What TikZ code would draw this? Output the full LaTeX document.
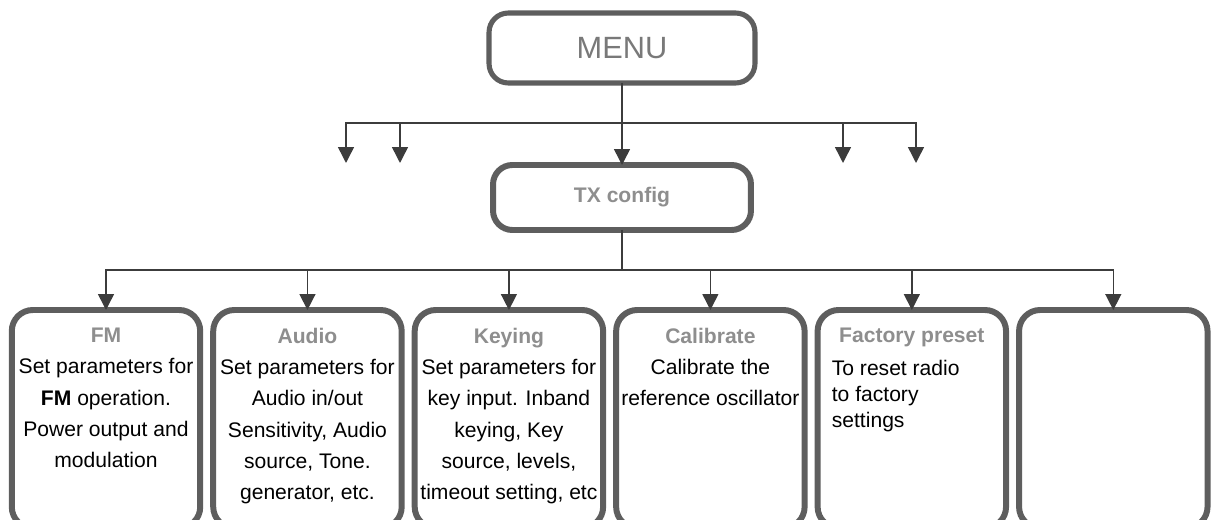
\documentclass[tikz,border=0pt]{standalone}
\usepackage{fontspec}
\setmainfont{Liberation Sans}
\usepackage{tikz}
\usetikzlibrary{arrows.meta}
\usetikzlibrary{positioning}
\definecolor{boxgray}{HTML}{5E5E5E}
\definecolor{headgray}{HTML}{8E8E8E}
\definecolor{linegray}{HTML}{3C3C3C}
\tikzset{>={Triangle[width=9pt,length=9pt]}, x=0.02cm, y=-0.02cm, font=\fontsize{12}{17.8}\selectfont}
\tikzstyle{menubox} = [draw=boxgray, fill=white, line width=2.9pt, rounded corners=11pt, rectangle, minimum width=5.32cm, minimum height=1.4cm, outer sep=0pt, text=headgray!85!black]
\tikzstyle{itembox} = [draw=boxgray, fill=white, line width=3.4pt, rounded corners=12pt, rectangle, minimum width=3.77cm, inner xsep=0.05cm, inner ysep=0.36cm, outer sep=0pt, anchor=north]
\tikzstyle{branch} = [draw=linegray, line width=0.85pt]
\tikzstyle{loose} = [coordinate]
\newcommand{\itemtext}[2]{\parbox[t][3.64cm][t]{3.6cm}{\centering{\bfseries\color{headgray}#1}\\#2}}
\newcommand{\leftitemtext}[2]{\parbox[t][3.64cm][t]{3.6cm}{{\centering\bfseries\color{headgray}#1\par}\vspace{4pt}\fontsize{12}{14.7}\selectfont\raggedright\setlength{\leftskip}{0.2cm}#2}}

\begin{document}
\begin{tikzpicture}
    \useasboundingbox (0,0) rectangle (1214,520);
    \node [menubox, font=\fontsize{17.5}{17.5}\selectfont] (menu) at (622,48) {MENU};
    \node [menubox, line width=3.4pt, minimum width=5.16cm, minimum height=1.3cm, font=\fontsize{12}{12}\selectfont\bfseries, text=headgray] (tx) at (622,197.5) {TX config};

    \node [itembox] (fm) at (106,310) {\itemtext{FM}{Set parameters for\\\textbf{FM} operation.\\Power output and\\modulation}};
    \node [itembox, right=0.26cm of fm] (audio) {\itemtext{Audio}{Set parameters for\\Audio in/out\\Sensitivity, Audio\\source, Tone.\\generator, etc.}};
    \node [itembox, right=0.26cm of audio] (keying) {\itemtext{Keying}{Set parameters for\\key input. Inband\\keying, Key\\source, levels,\\timeout setting, etc}};
    \node [itembox, right=0.26cm of keying] (calib) {\itemtext{Calibrate}{Calibrate the\\reference oscillator}};
    \node [itembox, right=0.26cm of calib] (factory) {\leftitemtext{Factory preset}{To reset radio\\to factory\\settings}};
    \node [itembox, right=0.26cm of factory] (spare) {\parbox[t][3.64cm][t]{3.6cm}{\mbox{}}};

    % branches below MENU
    \coordinate (topbar) at (622,123);
    \node [loose] (out1) at (346,163) {};
    \node [loose] (out2) at (400,163) {};
    \node [loose] (out3) at (843,163) {};
    \node [loose] (out4) at (916,163) {};
    \draw [branch, line width=1.4pt] (topbar) -- (topbar -| out3);
    \draw [branch, ->] (menu.south) -- (tx.north);
    \draw [branch, ->] (topbar) -| (out1);
    \draw [branch, ->] (topbar) -| (out2);
    \draw [branch, ->] (topbar) -| (out3);
    \draw [branch, ->] (topbar) -| (out4);

    % branches below TX config
    \coordinate (lowbar) at (622,270);
    \draw [branch] (tx.south) -- (lowbar);
    \draw [branch, ->] (lowbar) -| (fm.north);
    \draw [branch, ->] (lowbar) -| (audio.north);
    \draw [branch, ->] (lowbar) -| (keying.north);
    \draw [branch, ->] (lowbar) -| (calib.north);
    \draw [branch, ->] (lowbar) -| (factory.north);
    \draw [branch, ->] (lowbar) -| (spare.north);
\end{tikzpicture}
\end{document}
